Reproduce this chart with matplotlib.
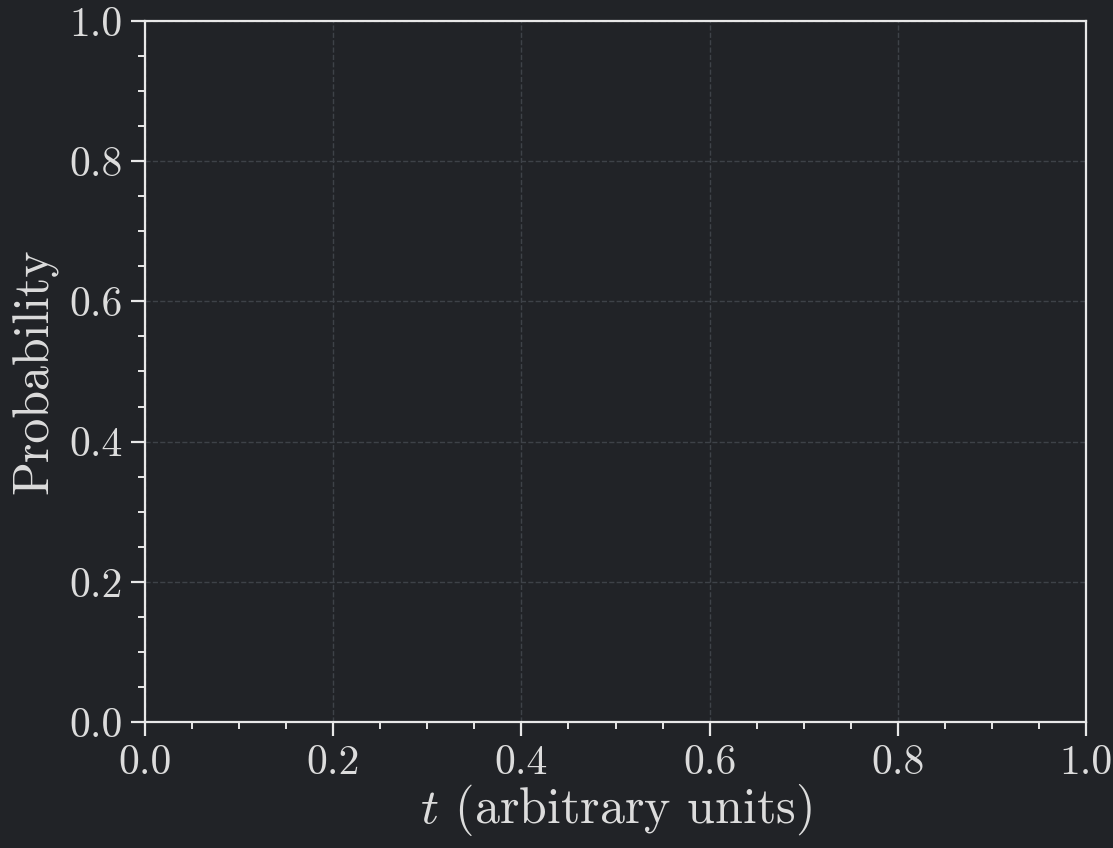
import matplotlib
matplotlib.use("Agg")
import matplotlib.pyplot as plt
import numpy as np

# axis setup
x_lim = [0.0, 1.0]
y_lim = [0.0, 1.0]
x_ticks = [0.0, 0.2, 0.4, 0.6, 0.8, 1.0]
y_ticks = [0.0, 0.2, 0.4, 0.6, 0.8, 1.0]
x_label = r"$t$ (arbitrary units)"
y_label = "Probability"

bg = "#212327"
fg = "#dcdcdc"

plt.rcParams["font.family"] = "cmr10"
plt.rcParams["mathtext.fontset"] = "cm"
plt.rcParams["axes.formatter.use_mathtext"] = True

fig = plt.figure(figsize=(11.13, 8.48), dpi=100, facecolor=bg)
ax = fig.add_axes([145 / 1113, 1 - 722 / 848, (1086 - 145) / 1113, (722 - 21) / 848])
ax.set_facecolor(bg)

ax.set_xlim(x_lim)
ax.set_ylim(y_lim)
ax.set_xticks(x_ticks)
ax.set_yticks(y_ticks)
ax.set_xticklabels(["%.1f" % v for v in x_ticks])
ax.set_yticklabels(["%.1f" % v for v in y_ticks])
ax.set_xticks(np.arange(0, 1.001, 0.05), minor=True)
ax.set_yticks(np.arange(0, 1.001, 0.05), minor=True)

for s in ax.spines.values():
    s.set_color("#e8e8e8")
    s.set_linewidth(1.6)

ax.tick_params(which="major", direction="out", length=10, width=1.6, color="#e8e8e8",
               labelcolor=fg, labelsize=30, pad=6)
ax.tick_params(which="minor", direction="out", length=5, width=1.4, color="#e8e8e8")

ax.grid(True, which="major", linestyle="--", color="#3e4248", linewidth=1.0)

ax.set_xlabel(x_label, color=fg, fontsize=36, labelpad=0)
ax.set_ylabel(y_label, color=fg, fontsize=36, labelpad=8)

fig.savefig("out.png", dpi=100, facecolor=bg)
